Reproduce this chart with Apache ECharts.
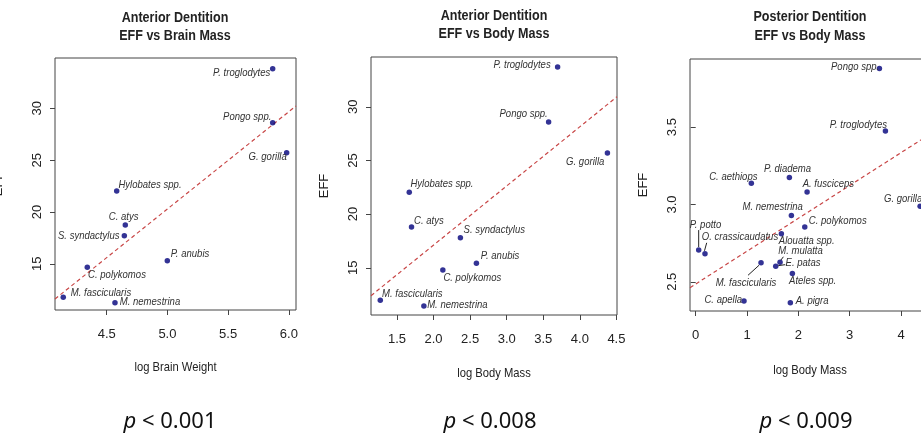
<!DOCTYPE html>
<html>
<head>
<meta charset="utf-8">
<script src="https://cdn.jsdelivr.net/npm/echarts@6/dist/echarts.min.js"></script>
<style>html,body{margin:0;padding:0;background:#fff}#main{width:921px;height:435px}</style>
</head>
<body>
<div id="main"></div>
<script>
// panel 1 - anterior dentition, EFF vs log brain weight
var names1 = ['P. troglodytes', 'Pongo spp.', 'G. gorilla', 'Hylobates spp.', 'C. atys', 'S. syndactylus', 'P. anubis', 'C. polykomos', 'M. fascicularis', 'M. nemestrina'];
var brain1 = [5.867, 5.867, 5.982, 4.582, 4.653, 4.645, 4.999, 4.340, 4.142, 4.568];
var eff1 = [33.83, 28.62, 25.72, 22.03, 18.75, 17.71, 15.30, 14.66, 11.77, 11.25];
var fit1 = [[4.074, 11.60], [6.059, 30.23]];
var xTicks1 = [4.5, 5.0, 5.5, 6.0];
var yTicks1 = [15, 20, 25, 30];

// panel 2 - anterior dentition, EFF vs log body mass
var names2 = ['P. troglodytes', 'Pongo spp.', 'G. gorilla', 'Hylobates spp.', 'C. atys', 'S. syndactylus', 'P. anubis', 'C. polykomos', 'M. fascicularis', 'M. nemestrina'];
var body2 = [3.696, 3.573, 4.377, 1.668, 1.699, 2.367, 2.586, 2.127, 1.272, 1.868];
var eff2 = [33.71, 28.59, 25.70, 22.03, 18.80, 17.80, 15.42, 14.79, 11.97, 11.44];
var fit2 = [[1.145, 12.40], [4.508, 30.94]];
var xTicks2 = [1.5, 2.0, 2.5, 3.0, 3.5, 4.0, 4.5];
var yTicks2 = [15, 20, 25, 30];

// panel 3 - posterior dentition, EFF vs log body mass
var names3 = ['Pongo spp.', 'P. troglodytes', 'P. diadema', 'C. aethiops', 'A. fusciceps', 'G. gorilla', 'M. nemestrina', 'C. polykomos', 'Alouatta spp.', 'P. potto', 'O. crassicaudatus', 'M. fascicularis', 'M. mulatta', 'E. patas', 'Ateles spp.', 'C. apella', 'A. pigra'];
var body3 = [3.579, 3.696, 1.825, 1.084, 2.170, 4.372, 1.864, 2.125, 1.669, 0.058, 0.181, 1.273, 1.643, 1.559, 1.883, 0.941, 1.844];
var eff3 = [3.879, 3.475, 3.174, 3.137, 3.081, 2.988, 2.928, 2.855, 2.810, 2.705, 2.681, 2.623, 2.627, 2.601, 2.554, 2.375, 2.365];
var fit3 = [[-0.111, 2.462], [4.545, 3.451]];
var xTicks3 = [0, 1, 2, 3, 4];
var yTicks3 = [2.5, 3.0, 3.5];

var pTexts = ['0.001', '0.008', '0.009'];

// label placement: label centre relative to its dot, in px
var off1 = [[-31, 4.5], [-25.5, -6], [-19, 4], [33.3, -6], [-1.6, -7.7], [-35.6, 0], [22.7, -6.7], [29.7, 7.7], [37.7, -4], [35, -0.4]];
var off2 = [[-35.5, -2], [-25, -7.7], [-22.2, 8.7], [32.7, -9], [17.4, -6.3], [33.9, -8.4], [23.7, -7.3], [29.5, 7.7], [32, -7], [33.5, -0.7]];
var off3 = [[-24.3, -1.4], [-27, -6.6], [-1.8, -8.7], [-18, -7], [21.3, -8.6], [-17, -7.4], [-18.7, -9.3], [33, -6.3], [25.3, 6.7], [6.8, -25.7], [35, -16.6], [-15, 20], [20.5, -11], [27.3, -3.4], [20.3, 7.7], [-20.7, -1.7], [21.8, -1.6]];
// pointer segments for crowded labels (index -> [x1, y1, x2, y2] relative to the dot)
var pointer3 = {
    9: [0, -20, 0, -3],
    10: [1.7, -11, -0.5, -3],
    11: [-13, 12.5, -2, 2.5],
    12: [3.4, -5.4, 0.8, -2],
    13: [9.5, -1.5, 2.5, -0.5]
};

var FONT = "'Liberation Sans', Arial, sans-serif";
var SQUEEZE = 0.83;
var INK = '#222';
var BOX = '#444';

var chart = echarts.init(document.getElementById('main'), null, { renderer: 'canvas' });

var makeAxis = function (idx, min, max, ticks, dec, isY, name, gap) {
    var ax = {
        type: 'value',
        gridIndex: idx,
        min: min,
        max: max,
        name: name,
        nameLocation: 'middle',
        nameGap: gap,
        nameTextStyle: { fontFamily: FONT, fontSize: 13, color: INK },
        axisLine: { show: false },
        splitLine: { show: false },
        axisTick: { show: true, length: 5, customValues: ticks, lineStyle: { color: BOX } },
        axisLabel: {
            show: true,
            customValues: ticks,
            margin: isY ? 11 : 18,
            fontFamily: FONT,
            fontSize: 13,
            color: INK,
            formatter: function (v) { return v.toFixed(dec); }
        }
    };
    if (isY) {
        ax.axisLabel.rotate = 90;
    }
    return ax;
};

var makeScatter = function (idx, xs, ys) {
    var data = [];
    for (var i = 0; i < xs.length; i++) {
        data.push([xs[i], ys[i]]);
    }
    return {
        type: 'scatter',
        xAxisIndex: idx,
        yAxisIndex: idx,
        symbolSize: 5.5,
        itemStyle: { color: '#00007a' },
        data: data,
        silent: true,
        z: 3
    };
};

// italic, slightly condensed point labels placed through the axis scales
var makeLabels = function (idx, names, xs, ys, off, pointers) {
    var data = [];
    for (var i = 0; i < names.length; i++) {
        data.push([xs[i], ys[i]]);
    }
    return {
        type: 'custom',
        xAxisIndex: idx,
        yAxisIndex: idx,
        silent: true,
        z: 4,
        data: data,
        renderItem: function (params, api) {
            var i = params.dataIndex;
            var pt = api.coord([api.value(0), api.value(1)]);
            var o = off[i];
            var children = [{
                type: 'text',
                x: pt[0] + o[0],
                y: pt[1] + o[1],
                scaleX: SQUEEZE,
                style: {
                    text: names[i],
                    align: 'center',
                    verticalAlign: 'middle',
                    fontFamily: FONT,
                    fontStyle: 'italic',
                    fontSize: 11.5,
                    fill: '#333'
                }
            }];
            if (pointers && pointers[i]) {
                var s = pointers[i];
                children.push({
                    type: 'line',
                    shape: { x1: pt[0] + s[0], y1: pt[1] + s[1], x2: pt[0] + s[2], y2: pt[1] + s[3] },
                    style: { stroke: '#222', lineWidth: 1 }
                });
            }
            return { type: 'group', children: children };
        }
    };
};

var makeFit = function (idx, pts) {
    return {
        type: 'line',
        xAxisIndex: idx,
        yAxisIndex: idx,
        data: pts,
        symbol: 'none',
        silent: true,
        lineStyle: { color: '#c84646', width: 1.2, type: [4, 3] },
        z: 2
    };
};

var titleX = [175, 494, 810];
var titleY = [[18, 36], [16, 34], [17, 36]];
var titles = [
    ['Anterior Dentition', 'EFF vs Brain Mass'],
    ['Anterior Dentition', 'EFF vs Body Mass'],
    ['Posterior Dentition', 'EFF vs Body Mass']
];
var xNames = ['log Brain Weight', 'log Body Mass', 'log Body Mass'];
var xNameX = [175.5, 494, 810];
var xNameY = [367, 373, 370];
var pX = [170, 490, 806];

var graphics = [];
for (var k = 0; k < 3; k++) {
    for (var j = 0; j < 2; j++) {
        graphics.push({
            type: 'text', x: titleX[k], y: titleY[k][j], scaleX: 0.81,
            style: { text: titles[k][j], align: 'center', verticalAlign: 'middle', fontFamily: FONT, fontWeight: 'bold', fontSize: 15.5, fill: INK }
        });
    }
    graphics.push({
        type: 'text', x: xNameX[k], y: xNameY[k], scaleX: SQUEEZE,
        style: { text: xNames[k], align: 'center', verticalAlign: 'middle', fontFamily: FONT, fontSize: 13.5, fill: INK }
    });
    graphics.push({
        type: 'text', x: pX[k], y: 422,
        style: {
            text: '{i|p} < ' + pTexts[k],
            align: 'center', verticalAlign: 'middle',
            fontFamily: 'Noto Sans', fontSize: 22, fill: '#111',
            rich: { i: { fontStyle: 'italic', fontFamily: 'Noto Sans', fontSize: 22, fill: '#111' } }
        }
    });
}

var gridStyle = { show: true, borderColor: BOX, borderWidth: 1, backgroundColor: 'transparent', containLabel: false, outerBoundsMode: 'none' };

var option = {
    animation: false,
    backgroundColor: '#fff',
    grid: [
        Object.assign({ left: 55, top: 58, width: 241, height: 252 }, gridStyle),
        Object.assign({ left: 371, top: 57, width: 246, height: 258 }, gridStyle),
        Object.assign({ left: 690, top: 59, width: 239, height: 252 }, gridStyle)
    ],
    xAxis: [
        makeAxis(0, 4.074, 6.059, xTicks1, 1, false, '', 50),
        makeAxis(1, 1.145, 4.508, xTicks2, 1, false, '', 51),
        makeAxis(2, -0.111, 4.545, xTicks3, 0, false, '', 52)
    ],
    yAxis: [
        makeAxis(0, 10.54, 34.86, yTicks1, 0, true, 'EFF', 50),
        makeAxis(1, 10.60, 34.64, yTicks2, 0, true, 'EFF', 40),
        makeAxis(2, 2.311, 3.941, yTicks3, 1, true, 'EFF', 40)
    ],
    series: [
        makeFit(0, fit1),
        makeFit(1, fit2),
        makeFit(2, fit3),
        makeScatter(0, brain1, eff1),
        makeScatter(1, body2, eff2),
        makeScatter(2, body3, eff3),
        makeLabels(0, names1, brain1, eff1, off1, null),
        makeLabels(1, names2, body2, eff2, off2, null),
        makeLabels(2, names3, body3, eff3, off3, pointer3)
    ],
    graphic: graphics
};

chart.setOption(option);
</script>
</body>
</html>
